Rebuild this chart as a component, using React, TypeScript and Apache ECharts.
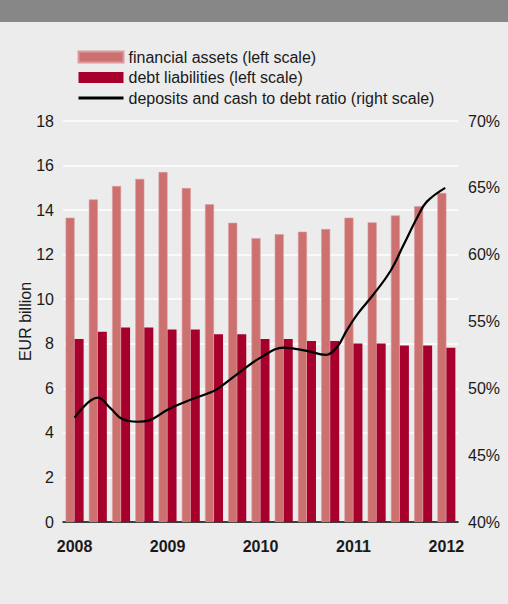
import React, { useEffect, useRef } from "react";
import * as echarts from "echarts";

const quarters = [
  "Q1 2008", "Q2 2008", "Q3 2008", "Q4 2008",
  "Q1 2009", "Q2 2009", "Q3 2009", "Q4 2009",
  "Q1 2010", "Q2 2010", "Q3 2010", "Q4 2010",
  "Q1 2011", "Q2 2011", "Q3 2011", "Q4 2011",
  "Q1 2012",
];
const financialAssets = [13.66, 14.48, 15.08, 15.4, 15.71, 14.99, 14.26, 13.43, 12.74, 12.92, 13.03, 13.15, 13.66, 13.45, 13.76, 14.17, 14.77];
const debtLiabilities = [8.22, 8.54, 8.73, 8.73, 8.64, 8.64, 8.43, 8.43, 8.22, 8.22, 8.13, 8.13, 8.01, 8.01, 7.92, 7.92, 7.82];
// [position in quarters, ratio %]
const depositsRatio: [number, number][] = [
  [0, 47.8], [1.0, 49.3], [1.55, 48.5], [2.05, 47.7], [2.7, 47.5], [3.2, 47.6],
  [4.0, 48.4], [4.85, 49.05], [5.7, 49.6], [6.1, 49.9], [7.1, 51.2], [8.0, 52.3],
  [9.0, 53.05], [10.0, 52.8], [10.8, 52.5], [11.3, 53.1], [11.7, 54.3], [12.15, 55.5],
  [12.85, 57.0], [13.6, 58.8], [14.15, 60.7], [14.75, 62.8], [15.15, 63.95], [15.95, 65.0],
];
const seriesNames = [
  "financial assets (left scale)",
  "debt liabilities (left scale)",
  "deposits and cash to debt ratio (right scale)",
];

const FONT = "'Liberation Sans', Arial, Helvetica, sans-serif";
const TEXT = "#1a1a1a";
const FS = 16;

export default function App() {
  const ref = useRef<HTMLDivElement>(null);
  useEffect(() => {
    document.body.style.margin = "0";
    const chart = echarts.init(ref.current!, null, { renderer: "svg" });
    chart.setOption({
      animation: false,
      backgroundColor: "#ececec",
      textStyle: { fontFamily: FONT, color: TEXT },
      graphic: [
        { type: "rect", left: 0, top: 0, shape: { width: 508, height: 22 }, style: { fill: "#878787" } },
      ],
      legend: {
        orient: "vertical",
        left: 77,
        top: 49,
        padding: 0,
        itemWidth: 45,
        itemHeight: 11,
        itemGap: 4.5,
        textStyle: { fontSize: FS, color: TEXT, fontFamily: FONT },
        data: [
          { name: seriesNames[0], icon: "rect" },
          { name: seriesNames[1], icon: "rect" },
          {
            name: seriesNames[2],
            itemStyle: { color: "rgba(0,0,0,0)", borderColor: "rgba(0,0,0,0)", borderWidth: 0 },
            lineStyle: { color: "#000", width: 3 },
          },
        ],
      },
      grid: { left: 63, right: 50, top: 121, bottom: 82 },
      xAxis: [
        {
          type: "category",
          data: quarters,
          axisTick: { show: false },
          axisLine: { lineStyle: { color: "#000", width: 1.5 } },
          axisLabel: {
            interval: 0,
            margin: 16,
            fontSize: FS,
            fontWeight: "bold",
            color: TEXT,
            formatter: (v: string) => (v.startsWith("Q1") ? v.slice(3) : ""),
          },
        },
        { type: "value", min: -0.5, max: 16.5, show: false },
      ],
      yAxis: [
        {
          type: "value",
          min: 0,
          max: 18,
          interval: 2,
          name: "EUR billion",
          nameLocation: "middle",
          nameGap: 30,
          nameMoveOverlap: false,
          nameTextStyle: { fontSize: FS, color: TEXT },
          axisLine: { show: false },
          axisTick: { show: false },
          axisLabel: { fontSize: FS, color: TEXT, margin: 9 },
          splitLine: { lineStyle: { color: "#ffffff", width: 1.5 } },
        },
        {
          type: "value",
          min: 40,
          max: 70,
          interval: 5,
          position: "right",
          axisLine: { show: false },
          axisTick: { show: false },
          splitLine: { show: false },
          axisLabel: { fontSize: FS, color: TEXT, margin: 10, formatter: "{value}%" },
        },
      ],
      series: [
        {
          name: seriesNames[0],
          type: "bar",
          data: financialAssets,
          barWidth: 9,
          barGap: "0%",
          itemStyle: { color: "#cc7070", borderColor: "#dc9a9a", borderWidth: 0.6 },
        },
        {
          name: seriesNames[1],
          type: "bar",
          data: debtLiabilities,
          barWidth: 9,
          barGap: "0%",
          itemStyle: { color: "#a8002c" },
        },
        {
          name: seriesNames[2],
          type: "line",
          xAxisIndex: 1,
          yAxisIndex: 1,
          data: depositsRatio,
          smooth: 0.4,
          symbol: "none",
          lineStyle: { color: "#000", width: 2.2 },
          itemStyle: { color: "#000" },
          z: 5,
        },
      ],
    });
    return () => chart.dispose();
  }, []);
  return <div ref={ref} style={{ width: 508, height: 604 }} />;
}
